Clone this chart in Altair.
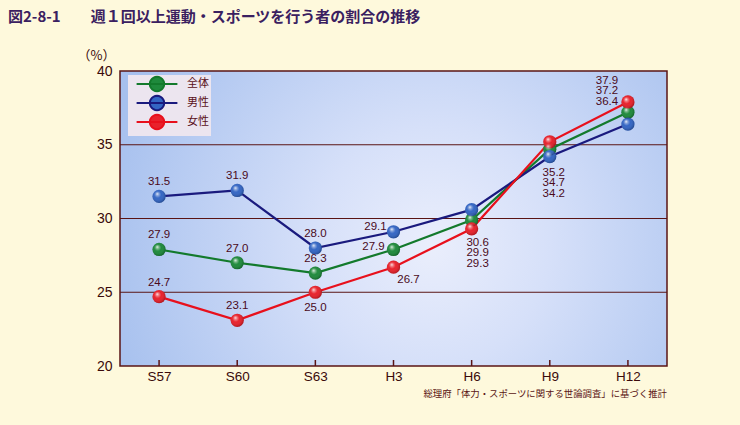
import math
import altair as alt
import pandas as pd

# ---------------- data ----------------
categories = ["S57", "S60", "S63", "H3", "H6", "H9", "H12"]
series_names = ["全体", "男性", "女性"]
total = [27.9, 27.0, 26.3, 27.9, 29.9, 34.7, 37.2]
male = [31.5, 31.9, 28.0, 29.1, 30.6, 34.2, 36.4]
female = [24.7, 23.1, 25.0, 26.7, 29.3, 35.2, 37.9]
y_ticks = [20, 25, 30, 35, 40]
grid_values = [25, 30, 35]
title_text = "図2-8-1　　週１回以上運動・スポーツを行う者の割合の推移"
source_text = "総理府「体力・スポーツに関する世論調査」に基づく推計"
y_title = "（%）"

# ---------------- style ----------------
W, H = 547, 295
Y_MIN, Y_MAX = 20, 40
PX_PER_UNIT = H / (Y_MAX - Y_MIN)
line_colors = ["#137a2c", "#1a1a7e", "#e8101c"]
sphere_colors = ["#1f8a3c", "#3466c4", "#e8222c"]
maroon = "#5a1414"
text_color = "#4a0a1a"
num_font = "Liberation Sans"
jp_font = "Noto Sans CJK JP"

rows = []
for s, vals in zip(series_names, [total, male, female]):
    for c, v in zip(categories, vals):
        rows.append({"series": s, "cat": c, "value": v})
df = pd.DataFrame(rows)

# label placement (pixel offsets; positive dy = downwards)
single_off = {
    ("S63", "女性"): (0, 16),
    ("H3", "男性"): (-18, -5),
    ("H3", "全体"): (-20, -2),
    ("H3", "女性"): (15, 13),
}
default_off = (0, -14)
stacks = {"H6": ("below", 6, 14), "H9": ("below", 4, 16), "H12": ("above", -21, -21)}
gap = 10.5

lab_rows = []
for c in categories:
    sub = df[df.cat == c].sort_values("value", ascending=False).reset_index(drop=True)
    for i, r in sub.iterrows():
        if c in stacks:
            kind, dx, base = stacks[c]
            anchor = sub.value.min() if kind == "below" else sub.value.max()
            dy = base + i * gap
        else:
            anchor = r.value
            dx, dy = single_off.get((c, r.series), default_off)
        lab_rows.append({"cat": c, "series": r.series,
                         "ly": anchor - dy / PX_PER_UNIT,
                         "text": f"{r.value:.1f}", "dx": dx})
labels = pd.DataFrame(lab_rows)

xscale = alt.Scale(type="point", domain=categories, padding=0.5)
yscale = alt.Scale(domain=[Y_MIN, Y_MAX], nice=False, zero=False)

x_enc = alt.X("cat:N", scale=xscale, sort=categories, title=None,
              axis=alt.Axis(labelFont=num_font, labelFontSize=13.5, labelColor="#3a0a0a",
                            labelPadding=3, ticks=False, domain=False, grid=False,
                            labelAngle=0))
y_enc = alt.Y("value:Q", scale=yscale, title=y_title,
              axis=alt.Axis(values=y_ticks, grid=False,
                            ticks=False, domain=False, labelFont=num_font,
                            labelFontSize=14, labelColor="#3a0a0a", labelPadding=8,
                            titleAngle=0, titleX=-24, titleY=-16, titleAlign="center",
                            titleBaseline="middle", titleFont=jp_font, titleFontSize=13,
                            titleFontWeight="normal", titleColor="#3a0a0a"))

bg = alt.Chart(pd.DataFrame({"k": [0]})).mark_rect(
    fill=alt.RadialGradient(
        gradient="radial", x1=0.57, y1=0.55, r1=0, x2=0.57, y2=0.55, r2=0.62,
        stops=[
            alt.GradientStop(offset=0, color="#eaeefc"),
            alt.GradientStop(offset=0.35, color="#d6e0f9"),
            alt.GradientStop(offset=1, color="#a6c0ee"),
        ],
    )
).encode(x=alt.value(0), x2=alt.value(W), y=alt.value(0), y2=alt.value(H))

grid = alt.Chart(pd.DataFrame({"g": grid_values})).mark_rule(
    color=maroon, strokeWidth=1
).encode(y=alt.Y("g:Q", scale=yscale))

border = alt.Chart(pd.DataFrame({"k": [0]})).mark_rect(
    fill="transparent", stroke=maroon, strokeWidth=1.5
).encode(x=alt.value(0), x2=alt.value(W), y=alt.value(0), y2=alt.value(H))

legend_args = dict(title=None)
lines = alt.Chart(df).mark_line(strokeWidth=2.2).encode(
    x=x_enc, y=y_enc,
    stroke=alt.Stroke("series:N", scale=alt.Scale(domain=series_names, range=line_colors),
                      legend=alt.Legend(**legend_args)),
)

points = alt.Chart(df).mark_circle(size=175, opacity=1).encode(
    x=x_enc, y=y_enc,
    fill=alt.Fill("series:N", scale=alt.Scale(domain=series_names, range=sphere_colors),
                  legend=alt.Legend(**legend_args)),
)

shine = alt.Chart(df).mark_circle(
    size=175, opacity=1,
    fill=alt.RadialGradient(
        gradient="radial", x1=0.36, y1=0.3, r1=0, x2=0.45, y2=0.45, r2=0.6,
        stops=[
            alt.GradientStop(offset=0, color="rgba(255,255,255,0.95)"),
            alt.GradientStop(offset=0.2, color="rgba(255,255,255,0.4)"),
            alt.GradientStop(offset=0.45, color="rgba(255,255,255,0)"),
            alt.GradientStop(offset=0.85, color="rgba(0,0,0,0.15)"),
            alt.GradientStop(offset=1, color="rgba(0,0,0,0.35)"),
        ],
    ),
).encode(x=x_enc, y=y_enc)

ticks = alt.Chart(pd.DataFrame({"cat": categories})).mark_rule(
    color=maroon, strokeWidth=1.5
).encode(x=alt.X("cat:N", scale=xscale, sort=categories), y=alt.value(H - 6), y2=alt.value(H))

text = alt.Chart(labels).mark_text(
    font=num_font, fontSize=11.5, color=text_color, baseline="middle", align="center"
).encode(
    x=alt.X("cat:N", scale=xscale, sort=categories),
    y=alt.Y("ly:Q", scale=yscale),
    xOffset=alt.XOffset("dx:Q", scale=None),
    text="text:N",
)

source = alt.Chart(pd.DataFrame({"t": [source_text]})).mark_text(
    font=jp_font, fontSize=9.4, color=maroon, align="right", baseline="middle"
).encode(x=alt.value(W), y=alt.value(H + 28), text="t:N")

# legend symbol: line with a polygonal "ball" (polygon keeps bounds tight)
r_ball = 1.2
n_seg = 24
pts = [(r_ball * math.cos(2 * math.pi * k / n_seg), r_ball * math.sin(2 * math.pi * k / n_seg))
       for k in range(n_seg)]
ball = "M" + "L".join(f"{x:.3f},{y:.3f}" for x, y in pts) + "Z"
legend_path = "M-3.4,0L3.4,0" + ball

chart = alt.layer(bg, grid, lines, ticks, points, shine, text, border, source).resolve_scale(
    x="shared", y="shared"
).properties(
    width=W, height=H,
    autosize=alt.AutoSizeParams(type="none"),
    padding={"left": 120, "top": 71, "right": 73, "bottom": 59},
    background="#fef9dc",
    title=alt.TitleParams(
        text=title_text, anchor="start", frame="group", dx=-112, offset=24,
        font=jp_font, fontSize=15, fontWeight="bold", color="#3a2060",
    ),
).configure_view(
    stroke=None,
).configure_legend(
    orient="none", legendX=8, legendY=4, fillColor="#ece5ef", padding=2,
    symbolType=legend_path, symbolSize=144, symbolStrokeWidth=2,
    symbolOffset=20, labelOffset=23, rowPadding=-5,
    labelFont=jp_font, labelFontSize=11, labelColor="#5a1020",
)

chart.save("out.html", embed_options={"renderer": "svg", "actions": False})
